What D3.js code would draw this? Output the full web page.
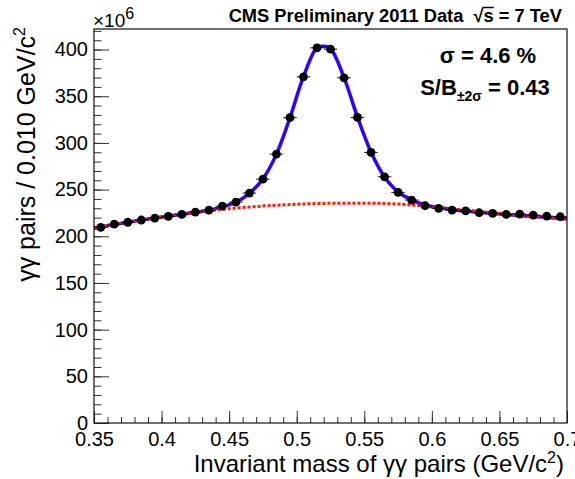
<!DOCTYPE html>
<html>
<head>
<meta charset="utf-8">
<script src="https://cdn.jsdelivr.net/npm/d3@7"></script>
<style>
  html, body { margin: 0; padding: 0; background: #fff; }
  svg { display: block; }
  text { font-family: "Liberation Sans", Arial, Helvetica, sans-serif; fill: #000; white-space: pre; }
</style>
</head>
<body>
<svg id="chart" width="575" height="479"></svg>
<script>
// Diphoton invariant mass spectrum, pi0 region (values in units of 1e6 pairs per bin)
const binCenters = [0.355, 0.365, 0.375, 0.385, 0.395, 0.405, 0.415, 0.425, 0.435, 0.445,
                    0.455, 0.465, 0.475, 0.485, 0.495, 0.505, 0.515, 0.525, 0.535, 0.545,
                    0.555, 0.565, 0.575, 0.585, 0.595, 0.605, 0.615, 0.625, 0.635, 0.645,
                    0.655, 0.665, 0.675, 0.685, 0.695];
const counts = [209.5, 213, 215, 217.4, 219.5, 221.3, 223.4, 225.9, 228, 232.3,
                236.6, 246.3, 261.2, 288, 327, 370.8, 401.8, 400.4, 369.7, 327.3,
                289.8, 263.7, 247, 238.8, 232.7, 229.9, 228, 227.3, 225.2, 224.5,
                223.4, 223.8, 222.7, 221.6, 220.9];
const binWidth = 0.01;

// Signal + background fit
const fitMass = [0.35, 0.355, 0.365, 0.375, 0.385, 0.395, 0.405, 0.415, 0.425, 0.435, 0.445,
                 0.455, 0.465, 0.475, 0.485, 0.495, 0.505, 0.515, 0.52, 0.525, 0.535, 0.545,
                 0.555, 0.565, 0.575, 0.585, 0.595, 0.605, 0.615, 0.625, 0.635, 0.645,
                 0.655, 0.665, 0.675, 0.685, 0.695, 0.70];
const fitValues = [208.5, 210, 212.5, 215, 217.3, 219.5, 221.5, 223.5, 225.7, 228, 231.5,
                   236.5, 246, 261.5, 288, 327, 371, 402, 403.5, 401, 370, 327.5,
                   290, 263.5, 247.5, 239, 233.5, 230.5, 228.5, 227, 225.7, 224.5,
                   223.3, 222.3, 221.2, 220.2, 219.2, 218.7];

// Background component of the fit
const bkgMass = [0.35, 0.40, 0.45, 0.50, 0.525, 0.55, 0.575, 0.60, 0.65, 0.70];
const bkgValues = [209, 220.5, 229.5, 234.3, 235.3, 235.5, 234.5, 231.5, 224.5, 218];

const xTicks = [0.35, 0.4, 0.45, 0.5, 0.55, 0.6, 0.65, 0.7];
const xTickLabels = ["0.35", "0.4", "0.45", "0.5", "0.55", "0.6", "0.65", "0.7"];
const yTicks = [0, 50, 100, 150, 200, 250, 300, 350, 400];

const svg = d3.select("#chart");
const frame = { left: 94, right: 567, top: 29, bottom: 423 };

const x = d3.scaleLinear().domain([0.35, 0.70]).range([frame.left, frame.right]);
const y = d3.scaleLinear().domain([0, 422]).range([frame.bottom, frame.top]);

// clip for the curves
svg.append("defs").append("clipPath").attr("id", "plotClip")
  .append("rect")
  .attr("x", frame.left).attr("y", frame.top)
  .attr("width", frame.right - frame.left).attr("height", frame.bottom - frame.top);

// axes: ticks pointing into the frame (major + minor)
const tickColor = "#333";
const xMinor = d3.range(0.35, 0.7001, 0.01);
const yMinor = d3.range(0, 421, 10);

const xMinorAxis = d3.axisBottom(x).tickValues(xMinor).tickSize(-6).tickFormat("");
const xMajorAxis = d3.axisBottom(x).tickValues(xTicks).tickSize(-12).tickPadding(9)
  .tickFormat((d, i) => xTickLabels[i]);
const yMinorAxis = d3.axisLeft(y).tickValues(yMinor).tickSize(-7.5).tickFormat("");
const yMajorAxis = d3.axisLeft(y).tickValues(yTicks).tickSize(-15).tickPadding(6)
  .tickFormat(d3.format("d"));

function styleAxis(g) {
  g.select(".domain").remove();
  g.selectAll(".tick line").attr("stroke", tickColor).attr("stroke-width", 1);
  g.selectAll(".tick text").style("font-size", "20px").attr("fill", "#000")
    .style("font-family", "'Liberation Sans', Arial, sans-serif");
}

svg.append("g").attr("transform", `translate(0,${frame.bottom})`).call(xMinorAxis).call(styleAxis);
svg.append("g").attr("transform", `translate(0,${frame.bottom})`).call(xMajorAxis).call(styleAxis);
svg.append("g").attr("transform", `translate(${frame.left},0)`).call(yMinorAxis).call(styleAxis);
svg.append("g").attr("transform", `translate(${frame.left},0)`).call(yMajorAxis).call(styleAxis);

// curves
const plot = svg.append("g").attr("clip-path", "url(#plotClip)");

const fitLine = d3.line()
  .x(d => x(d[0])).y(d => y(d[1]))
  .curve(d3.curveCatmullRom.alpha(0.5));

plot.append("path")
  .datum(fitMass.map((m, i) => [m, fitValues[i]]))
  .attr("d", fitLine)
  .attr("fill", "none")
  .attr("stroke", "#3300ff")
  .attr("stroke-width", 3.5);

const bkgLine = d3.line()
  .x(d => x(d[0])).y(d => y(d[1]))
  .curve(d3.curveMonotoneX);

plot.append("path")
  .datum(bkgMass.map((m, i) => [m, bkgValues[i]]))
  .attr("d", bkgLine)
  .attr("fill", "none")
  .attr("stroke", "#ff1a00")
  .attr("stroke-width", 3)
  .attr("stroke-dasharray", "3,2");

// data points with bin-width horizontal bars
const pts = svg.append("g");
pts.selectAll("line.xerr")
  .data(binCenters)
  .join("line")
  .attr("class", "xerr")
  .attr("x1", d => x(d - binWidth / 2))
  .attr("x2", d => x(d + binWidth / 2))
  .attr("y1", (d, i) => y(counts[i]))
  .attr("y2", (d, i) => y(counts[i]))
  .attr("stroke", "#111")
  .attr("stroke-width", 1);

pts.selectAll("circle")
  .data(binCenters)
  .join("circle")
  .attr("cx", d => x(d))
  .attr("cy", (d, i) => y(counts[i]))
  .attr("r", 4.4)
  .attr("fill", "#000");

// frame
svg.append("rect")
  .attr("x", frame.left).attr("y", frame.top)
  .attr("width", frame.right - frame.left).attr("height", frame.bottom - frame.top)
  .attr("fill", "none").attr("stroke", "#111").attr("stroke-width", 1.2);

// exponent label
const expo = svg.append("text").attr("x", 93).attr("y", 27).style("font-size", "19px");
expo.append("tspan").text("×10");
expo.append("tspan").attr("dy", -8).style("font-size", "16px").text("6");

// axis titles
const xTitle = svg.append("text")
  .attr("x", 564).attr("y", 472)
  .attr("text-anchor", "end")
  .style("font-size", "24px");
xTitle.append("tspan").text("Invariant mass of γγ pairs (GeV/c");
xTitle.append("tspan").attr("dy", -9).style("font-size", "16px").text("2");
xTitle.append("tspan").attr("dy", 9).text(")");

const yTitle = svg.append("text")
  .attr("transform", "translate(35,27) rotate(-90)")
  .attr("text-anchor", "end")
  .style("font-size", "25px");
yTitle.append("tspan").text("γγ pairs / 0.010 GeV/c");
yTitle.append("tspan").attr("dy", -10).style("font-size", "16px").text("2");

// header
const header = svg.append("text")
  .attr("x", 562).attr("y", 22)
  .attr("text-anchor", "end")
  .style("font-size", "18.3px").style("font-weight", "bold");
header.append("tspan").text("CMS Preliminary 2011 Data  ");
const rootSpan = header.append("tspan").text("√");
const sSpan = header.append("tspan").text("s");
header.append("tspan").text(" = 7 TeV");

// overline of the square root, running over its argument
const rExt = rootSpan.node().getExtentOfChar(0);
const sExt = sSpan.node().getExtentOfChar(0);
const barY = rExt.y + 2.5;
svg.append("line")
  .attr("x1", rExt.x + rExt.width - 1).attr("x2", sExt.x + sExt.width)
  .attr("y1", barY).attr("y2", barY)
  .attr("stroke", "#000").attr("stroke-width", 1.5);

// fit summary
svg.append("text")
  .attr("x", 488).attr("y", 63)
  .attr("text-anchor", "middle")
  .style("font-size", "22px").style("font-weight", "bold")
  .text("σ = 4.6 %");

const sb = svg.append("text")
  .attr("x", 485).attr("y", 95)
  .attr("text-anchor", "middle")
  .style("font-size", "22px").style("font-weight", "bold");
sb.append("tspan").text("S/B");
sb.append("tspan").attr("dy", 6).style("font-size", "14px").text("±2σ");
sb.append("tspan").attr("dy", -6).text(" = 0.43");
</script>
</body>
</html>
